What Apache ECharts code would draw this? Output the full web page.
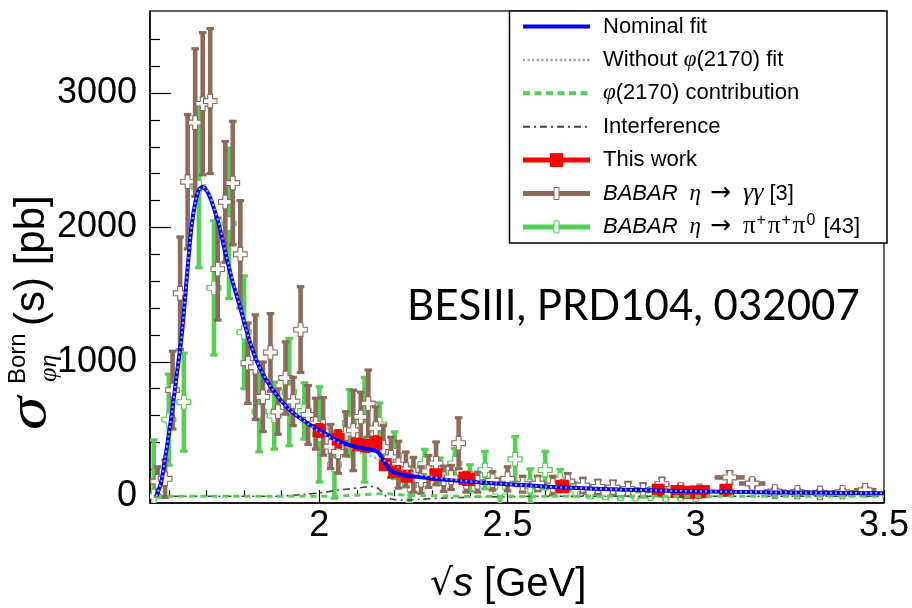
<!DOCTYPE html>
<html>
<head>
<meta charset="utf-8">
<script src="https://cdn.jsdelivr.net/npm/echarts@6/dist/echarts.min.js"></script>
<style>html,body{margin:0;padding:0;background:#fff}#c{width:912px;height:608px}</style>
</head>
<body>
<div id="c"></div>
<script>
// ---------------- data ----------------
const xMajorTicks = [2, 2.5, 3, 3.5];
const xMinorTicks = [1.6,1.7,1.8,1.9,2.1,2.2,2.3,2.4,2.6,2.7,2.8,2.9,3.1,3.2,3.3,3.4];
const yMajorTicks = [0, 1000, 2000, 3000];
const yMinorTicks = [200,400,600,800,1200,1400,1600,1800,2200,2400,2600,2800,3200,3400];

const fitX = [1.567,1.58,1.59,1.60,1.61,1.62,1.635,1.65,1.66,1.67,1.68,1.69,1.70,1.71,1.72,1.735,1.75,1.76,1.77,1.79,1.815,1.84,1.875,1.92,1.965,2.0,2.02,2.05,2.08,2.11,2.14,2.155,2.165,2.175,2.185,2.2,2.23,2.27,2.34,2.42,2.5,2.6,2.7,2.8,2.95,3.1,3.22,3.35,3.5];
const fitNominal = [0,110,280,460,660,880,1220,1700,2000,2180,2280,2300,2275,2220,2140,2000,1810,1700,1590,1400,1150,965,795,645,550,490,460,410,380,360,345,330,290,245,205,175,155,142,122,105,90,72,60,50,40,33,29,26,23];
const fitWithout = [0,110,280,460,660,880,1220,1700,2000,2180,2280,2300,2280,2230,2150,2015,1825,1715,1605,1410,1155,968,797,646,548,480,450,400,355,320,295,282,272,262,250,228,190,158,128,106,90,72,60,50,40,33,29,26,23];
const fitPhi2170 = [0,0,0,0,0,0,0,0,0,0,0,0,0,0,0,0,0,0,0,0,0,0,0,0,0,0,1,3,6,10,15,18,20,20,18,14,9,5,2,0,0,0,0,0,0,0,0,0,0];
const fitInterference = [0,0,0,0,0,0,0,0,0,0,0,0,0,0,0,0,0,0,0,0,0,0,0,5,15,25,32,45,55,65,72,60,35,5,-15,-25,-28,-22,-12,-6,-3,0,0,0,0,0,0,0,0];

const thisWorkX = [2.0,2.05,2.1,2.125,2.15,2.175,2.2,2.2324,2.3094,2.3864,2.396,2.6444,2.6464,2.9,2.95,2.981,3.0,3.02,3.08];
const thisWorkY = [490,425,385,375,395,235,185,150,160,135,125,75,70,45,35,30,32,35,45];
const thisWorkErr = [45,60,40,40,45,35,30,30,25,30,20,20,20,15,12,15,12,15,10];

const babarGgX = [1.57,1.59,1.61,1.63,1.65,1.67,1.69,1.71,1.73,1.75,1.77,1.79,1.81,1.83,1.85,1.87,1.89,1.91,1.93,1.95,1.97,1.99,2.01,2.03,2.05,2.07,2.09,2.11,2.13,2.15,2.17,2.19,2.21,2.23,2.25,2.27,2.29,2.31,2.33,2.35,2.37,2.39,2.42,2.46,2.50,2.54,2.58,2.62,2.66,2.70,2.74,2.78,2.82,2.86,2.91,2.96,3.01,3.09,3.15,3.21,3.27,3.33,3.39,3.45];
const babarGgY = [110,130,790,1510,2340,2780,2920,2940,1690,2190,2330,1800,990,960,740,1070,630,880,705,1240,605,540,520,370,330,465,490,590,690,505,365,290,235,200,160,120,185,245,130,140,395,105,105,115,130,90,95,80,110,80,70,65,55,45,90,50,40,140,95,35,30,25,30,45];
const babarGgErr = [110,140,290,420,500,550,530,540,380,450,460,400,300,390,260,290,170,270,180,320,220,190,215,165,160,165,300,185,250,160,165,150,175,130,130,100,120,160,95,90,190,75,75,70,90,60,55,70,60,55,50,50,50,50,45,35,30,45,30,20,20,20,20,20];
const babarGgXErr = [0.01,0.01,0.01,0.01,0.01,0.01,0.01,0.01,0.01,0.01,0.01,0.01,0.01,0.01,0.01,0.01,0.01,0.01,0.01,0.01,0.01,0.01,0.01,0.01,0.01,0.01,0.01,0.01,0.01,0.01,0.01,0.01,0.01,0.01,0.01,0.01,0.01,0.01,0.01,0.01,0.01,0.01,0.02,0.02,0.02,0.02,0.02,0.02,0.02,0.02,0.02,0.02,0.02,0.02,0.02,0.025,0.025,0.04,0.035,0.03,0.03,0.03,0.03,0.03];

const babar3piX = [1.56,1.60,1.64,1.68,1.72,1.76,1.80,1.84,1.88,1.92,1.96,2.00,2.04,2.08,2.12,2.16,2.20,2.24,2.28,2.32,2.36,2.40,2.44,2.48,2.52,2.56,2.60,2.64,2.68,2.72,2.76,2.80,2.84,2.88,2.92,2.96,3.00];
const babar3piY = [0,570,700,2300,1550,2030,1220,630,600,775,635,460,235,545,495,535,305,85,240,185,245,135,195,35,275,75,195,125,50,30,25,20,15,20,10,15,10];
const babar3piErr = [420,340,365,600,500,560,420,300,250,400,210,355,250,250,390,160,175,140,110,100,110,100,140,100,170,130,140,75,50,40,40,35,30,30,30,30,25];
const babar3piXErr = [0.02,0.02,0.02,0.02,0.02,0.02,0.02,0.02,0.02,0.02,0.02,0.02,0.02,0.02,0.02,0.02,0.02,0.02,0.02,0.02,0.02,0.02,0.02,0.02,0.02,0.02,0.02,0.02,0.02,0.02,0.02,0.02,0.02,0.02,0.02,0.02,0.02];

// ---------------- styles ----------------
const BLUE = '#0000ff', GRAY = '#a6a6b4', GREEN = '#55d055', DGRAY = '#444444', RED = '#ff0000', BROWN = '#8c6a5c';
const AXFONT = 'Liberation Sans, Arial, Helvetica, sans-serif';
const SERIF = 'Liberation Serif, serif';

function pairs(xs, ys) { return xs.map((x, i) => [x, ys[i]]); }
function errRows(xs, ys, es, xes) { return xs.map((x, i) => [x, ys[i], es[i], xes ? xes[i] : 0]); }

function makeErrRender(color, marker) {
  return function (params, api) {
    const x = api.value(0), y = api.value(1), e = api.value(2), xe = api.value(3);
    const c = api.coord([x, y]);
    const t = api.coord([x, y + e]);
    const b = api.coord([x, y - e]);
    const l = api.coord([x - xe, y]);
    const r = api.coord([x + xe, y]);
    const bw = 4.6;
    const ch = [];
    ch.push({ type: 'rect', shape: { x: c[0] - bw / 2, y: t[1], width: bw, height: b[1] - t[1] }, style: { fill: color } });
    ch.push({ type: 'rect', shape: { x: c[0] - 3.8, y: t[1] - 1.5, width: 7.6, height: 3.2 }, style: { fill: color } });
    ch.push({ type: 'rect', shape: { x: c[0] - 3.8, y: b[1] - 1.7, width: 7.6, height: 3.2 }, style: { fill: color } });
    if (r[0] - l[0] > 1) {
      ch.push({ type: 'rect', shape: { x: l[0], y: c[1] - bw / 2, width: r[0] - l[0], height: bw }, style: { fill: color } });
    }
    if (marker === 'cross') {
      const s = 6.8, a = 2.4, cx = c[0], cy = c[1];
      ch.push({ type: 'polygon', shape: { points: [
        [cx - a, cy - s], [cx + a, cy - s], [cx + a, cy - a], [cx + s, cy - a], [cx + s, cy + a], [cx + a, cy + a],
        [cx + a, cy + s], [cx - a, cy + s], [cx - a, cy + a], [cx - s, cy + a], [cx - s, cy - a], [cx - a, cy - a]
      ] }, style: { fill: '#ffffff', stroke: color, lineWidth: 1.1 } });
    } else {
      ch.push({ type: 'rect', shape: { x: c[0] - 6.5, y: c[1] - 6.5, width: 13, height: 13 }, style: { fill: color } });
    }
    return { type: 'group', children: ch };
  };
}

// ---------------- legend (graphic) ----------------
const LX1 = 523, LX2 = 590, LTX = 603;
const legendRows = [26.5, 60, 93.3, 126.7, 160.1, 193.5, 226.9];
const legFont = 22;
const legRich = {
  n: { fontFamily: AXFONT, fontSize: legFont, color: '#000' },
  i: { fontFamily: AXFONT, fontSize: legFont, fontStyle: 'italic', color: '#000' },
  g: { fontFamily: SERIF, fontSize: legFont + 1, fontStyle: 'italic', color: '#000' },
  gg: { fontFamily: SERIF, fontSize: 26, fontStyle: 'italic', color: '#000' },
  p: { fontFamily: SERIF, fontSize: 25, color: '#000' },
  a: { fontFamily: 'DejaVu Sans, sans-serif', fontSize: 25, color: '#000' },
  w12: { width: 12 }, w10: { width: 9 }, w13: { width: 12 }, w7: { width: 6 },
  s: { fontFamily: AXFONT, fontSize: 16, color: '#000', verticalAlign: 'top', lineHeight: 28, padding: [0, 2, 12, 1] }
};
const legendTexts = [
  '{n|Nominal fit}',
  '{n|Without }{g|φ}{n|(2170) fit}',
  '{g|φ}{n|(2170) contribution}',
  '{n|Interference}',
  '{n|This work}',
  '{i|BABAR}{w12|}{g|η}{w10|}{a|→}{w13|}{gg|γγ}{w7|}{n|[3]}',
  '{i|BABAR}{w12|}{g|η}{w10|}{a|→}{w13|}{p|π}{s|+}{p|π}{s|+}{p|π}{s|0}{w7|}{n|[43]}'
];
const legendGraphic = [
  { type: 'rect', shape: { x: 509.5, y: 11, width: 377.5, height: 232 }, style: { fill: '#fff', stroke: '#000', lineWidth: 1.5 }, z: 50 },
  { type: 'line', shape: { x1: LX1, y1: legendRows[0], x2: LX2, y2: legendRows[0] }, style: { stroke: BLUE, lineWidth: 4 }, z: 51 },
  { type: 'line', shape: { x1: LX1, y1: legendRows[1], x2: LX2, y2: legendRows[1] }, style: { stroke: '#9a9a9a', lineWidth: 2.5, lineDash: [2, 2.6] }, z: 51 },
  { type: 'line', shape: { x1: LX1, y1: legendRows[2], x2: LX2, y2: legendRows[2] }, style: { stroke: GREEN, lineWidth: 4, lineDash: [7, 4.5] }, z: 51 },
  { type: 'line', shape: { x1: LX1, y1: legendRows[3], x2: LX2, y2: legendRows[3] }, style: { stroke: DGRAY, lineWidth: 2, lineDash: [7, 4, 2, 4] }, z: 51 },
  { type: 'line', shape: { x1: LX1, y1: legendRows[4], x2: LX2, y2: legendRows[4] }, style: { stroke: RED, lineWidth: 5 }, z: 51 },
  { type: 'rect', shape: { x: 550, y: legendRows[4] - 7, width: 13, height: 14 }, style: { fill: RED }, z: 52 },
  { type: 'line', shape: { x1: LX1, y1: legendRows[5], x2: LX2, y2: legendRows[5] }, style: { stroke: BROWN, lineWidth: 5 }, z: 51 },
  { type: 'rect', shape: { x: 554, y: legendRows[5] - 6, width: 5, height: 12 }, style: { fill: '#fff', stroke: BROWN, lineWidth: 1 }, z: 52 },
  { type: 'line', shape: { x1: LX1, y1: legendRows[6], x2: LX2, y2: legendRows[6] }, style: { stroke: GREEN, lineWidth: 5 }, z: 51 },
  { type: 'rect', shape: { x: 554, y: legendRows[6] - 6, width: 5, height: 12 }, style: { fill: '#fff', stroke: GREEN, lineWidth: 1 }, z: 52 }
];
legendTexts.forEach((t, i) => {
  legendGraphic.push({ type: 'text', x: LTX, y: legendRows[i], z: 52,
    style: { text: t, rich: legRich, verticalAlign: 'middle', align: 'left' } });
});

// axis titles + annotation
const titleGraphic = [
  { type: 'group', x: 32, y: 430, rotation: Math.PI / 2, z: 60, children: [
    { type: 'text', x: 0, y: -1, scaleX: 1.25, style: { text: 'σ', fontFamily: SERIF, fontStyle: 'italic', fontSize: 54, fill: '#000', verticalAlign: 'middle', align: 'left' } },
    { type: 'text', x: 46, y: -14, style: { text: 'Born', fontFamily: AXFONT, fontSize: 24, fill: '#000', verticalAlign: 'middle', align: 'left' } },
    { type: 'text', x: 48, y: 17, style: { text: 'φη', fontFamily: SERIF, fontStyle: 'italic', fontSize: 26, fill: '#000', verticalAlign: 'middle', align: 'left' } },
    { type: 'text', x: 104, y: 0, style: { text: '(s) [pb]', fontFamily: AXFONT, fontSize: 42, fill: '#000', verticalAlign: 'middle', align: 'left' } }
  ] },
  { type: 'text', x: 430, y: 585, z: 60, style: { text: '{r|√}{s|s}{n| [GeV]}', verticalAlign: 'middle', align: 'left',
    rich: { r: { fontFamily: 'DejaVu Sans, sans-serif', fontSize: 36, color: '#000' },
            s: { fontFamily: AXFONT, fontStyle: 'italic', fontSize: 40, color: '#000' },
            n: { fontFamily: AXFONT, fontSize: 40, color: '#000' } } } },
  { type: 'text', x: 407, y: 306, z: 60, style: { text: 'BESIII, PRD104, 032007', fontFamily: 'Lato, Open Sans, sans-serif', fontSize: 42, fill: '#000', verticalAlign: 'middle', align: 'left' } }
];

// ---------------- chart ----------------
const chart = echarts.init(document.getElementById('c'), null, { renderer: 'canvas' });
const option = {
  animation: false,
  backgroundColor: '#fff',
  grid: { left: 150, right: 25, top: 11, bottom: 105, show: true, borderColor: '#333', borderWidth: 1.5, backgroundColor: 'transparent' },
  xAxis: [
    { type: 'value', min: 1.55, max: 3.5, position: 'bottom',
      axisLine: { show: true, onZero: false, lineStyle: { color: '#000', width: 1.5 } },
      axisTick: { show: true, inside: true, length: 13, customValues: xMajorTicks, lineStyle: { color: '#000', width: 1.2 } },
      axisLabel: { show: true, customValues: xMajorTicks, fontFamily: AXFONT, fontSize: 36, color: '#000', margin: 5, formatter: v => String(v) },
      splitLine: { show: false } },
    { type: 'value', min: 1.55, max: 3.5, position: 'bottom', offset: 0,
      axisLine: { show: false },
      axisTick: { show: true, inside: true, length: 6, customValues: xMinorTicks, lineStyle: { color: '#000', width: 1.2 } },
      axisLabel: { show: false }, splitLine: { show: false } }
  ],
  yAxis: [
    { type: 'value', min: -50, max: 3610, position: 'left',
      axisLine: { show: true, onZero: false, lineStyle: { color: '#000', width: 1.5 } },
      axisTick: { show: true, inside: true, length: 21, customValues: yMajorTicks, lineStyle: { color: '#000', width: 1.2 } },
      axisLabel: { show: true, customValues: yMajorTicks, fontFamily: AXFONT, fontSize: 36, color: '#000', margin: 13, formatter: v => String(v) },
      splitLine: { show: false } },
    { type: 'value', min: -50, max: 3610, position: 'left', offset: 0,
      axisLine: { show: false },
      axisTick: { show: true, inside: true, length: 10, customValues: yMinorTicks, lineStyle: { color: '#000', width: 1.2 } },
      axisLabel: { show: false }, splitLine: { show: false } }
  ],
  series: [
    { name: 'BABAR 3pi', type: 'custom', clip: true, z: 2, renderItem: makeErrRender(GREEN, 'cross'),
      data: errRows(babar3piX, babar3piY, babar3piErr, babar3piXErr) },
    { name: 'BABAR gg', type: 'custom', clip: true, z: 3, renderItem: makeErrRender(BROWN, 'cross'),
      data: errRows(babarGgX, babarGgY, babarGgErr, babarGgXErr) },
    { name: 'This work', type: 'custom', clip: true, z: 4, renderItem: makeErrRender(RED, 'square'),
      data: errRows(thisWorkX, thisWorkY, thisWorkErr, null) },
    { name: 'Interference', type: 'line', z: 5, clip: true, showSymbol: false, smooth: 0.3,
      data: pairs(fitX, fitInterference), lineStyle: { color: DGRAY, width: 1.6, type: [7, 4, 2, 4] } },
    { name: 'phi2170', type: 'line', z: 5, clip: true, showSymbol: false, smooth: 0.3,
      data: pairs(fitX, fitPhi2170), lineStyle: { color: GREEN, width: 3, type: [6, 5] } },
    { name: 'Nominal fit', type: 'line', z: 6, clip: true, showSymbol: false, smooth: 0.3,
      data: pairs(fitX, fitNominal), lineStyle: { color: BLUE, width: 4 } },
    { name: 'Without', type: 'line', z: 7, clip: true, showSymbol: false, smooth: 0.3,
      data: pairs(fitX, fitWithout), lineStyle: { color: GRAY, width: 2.2, type: [2, 3] } }
  ],
  graphic: legendGraphic.concat(titleGraphic)
};
chart.setOption(option);
</script>
</body>
</html>
